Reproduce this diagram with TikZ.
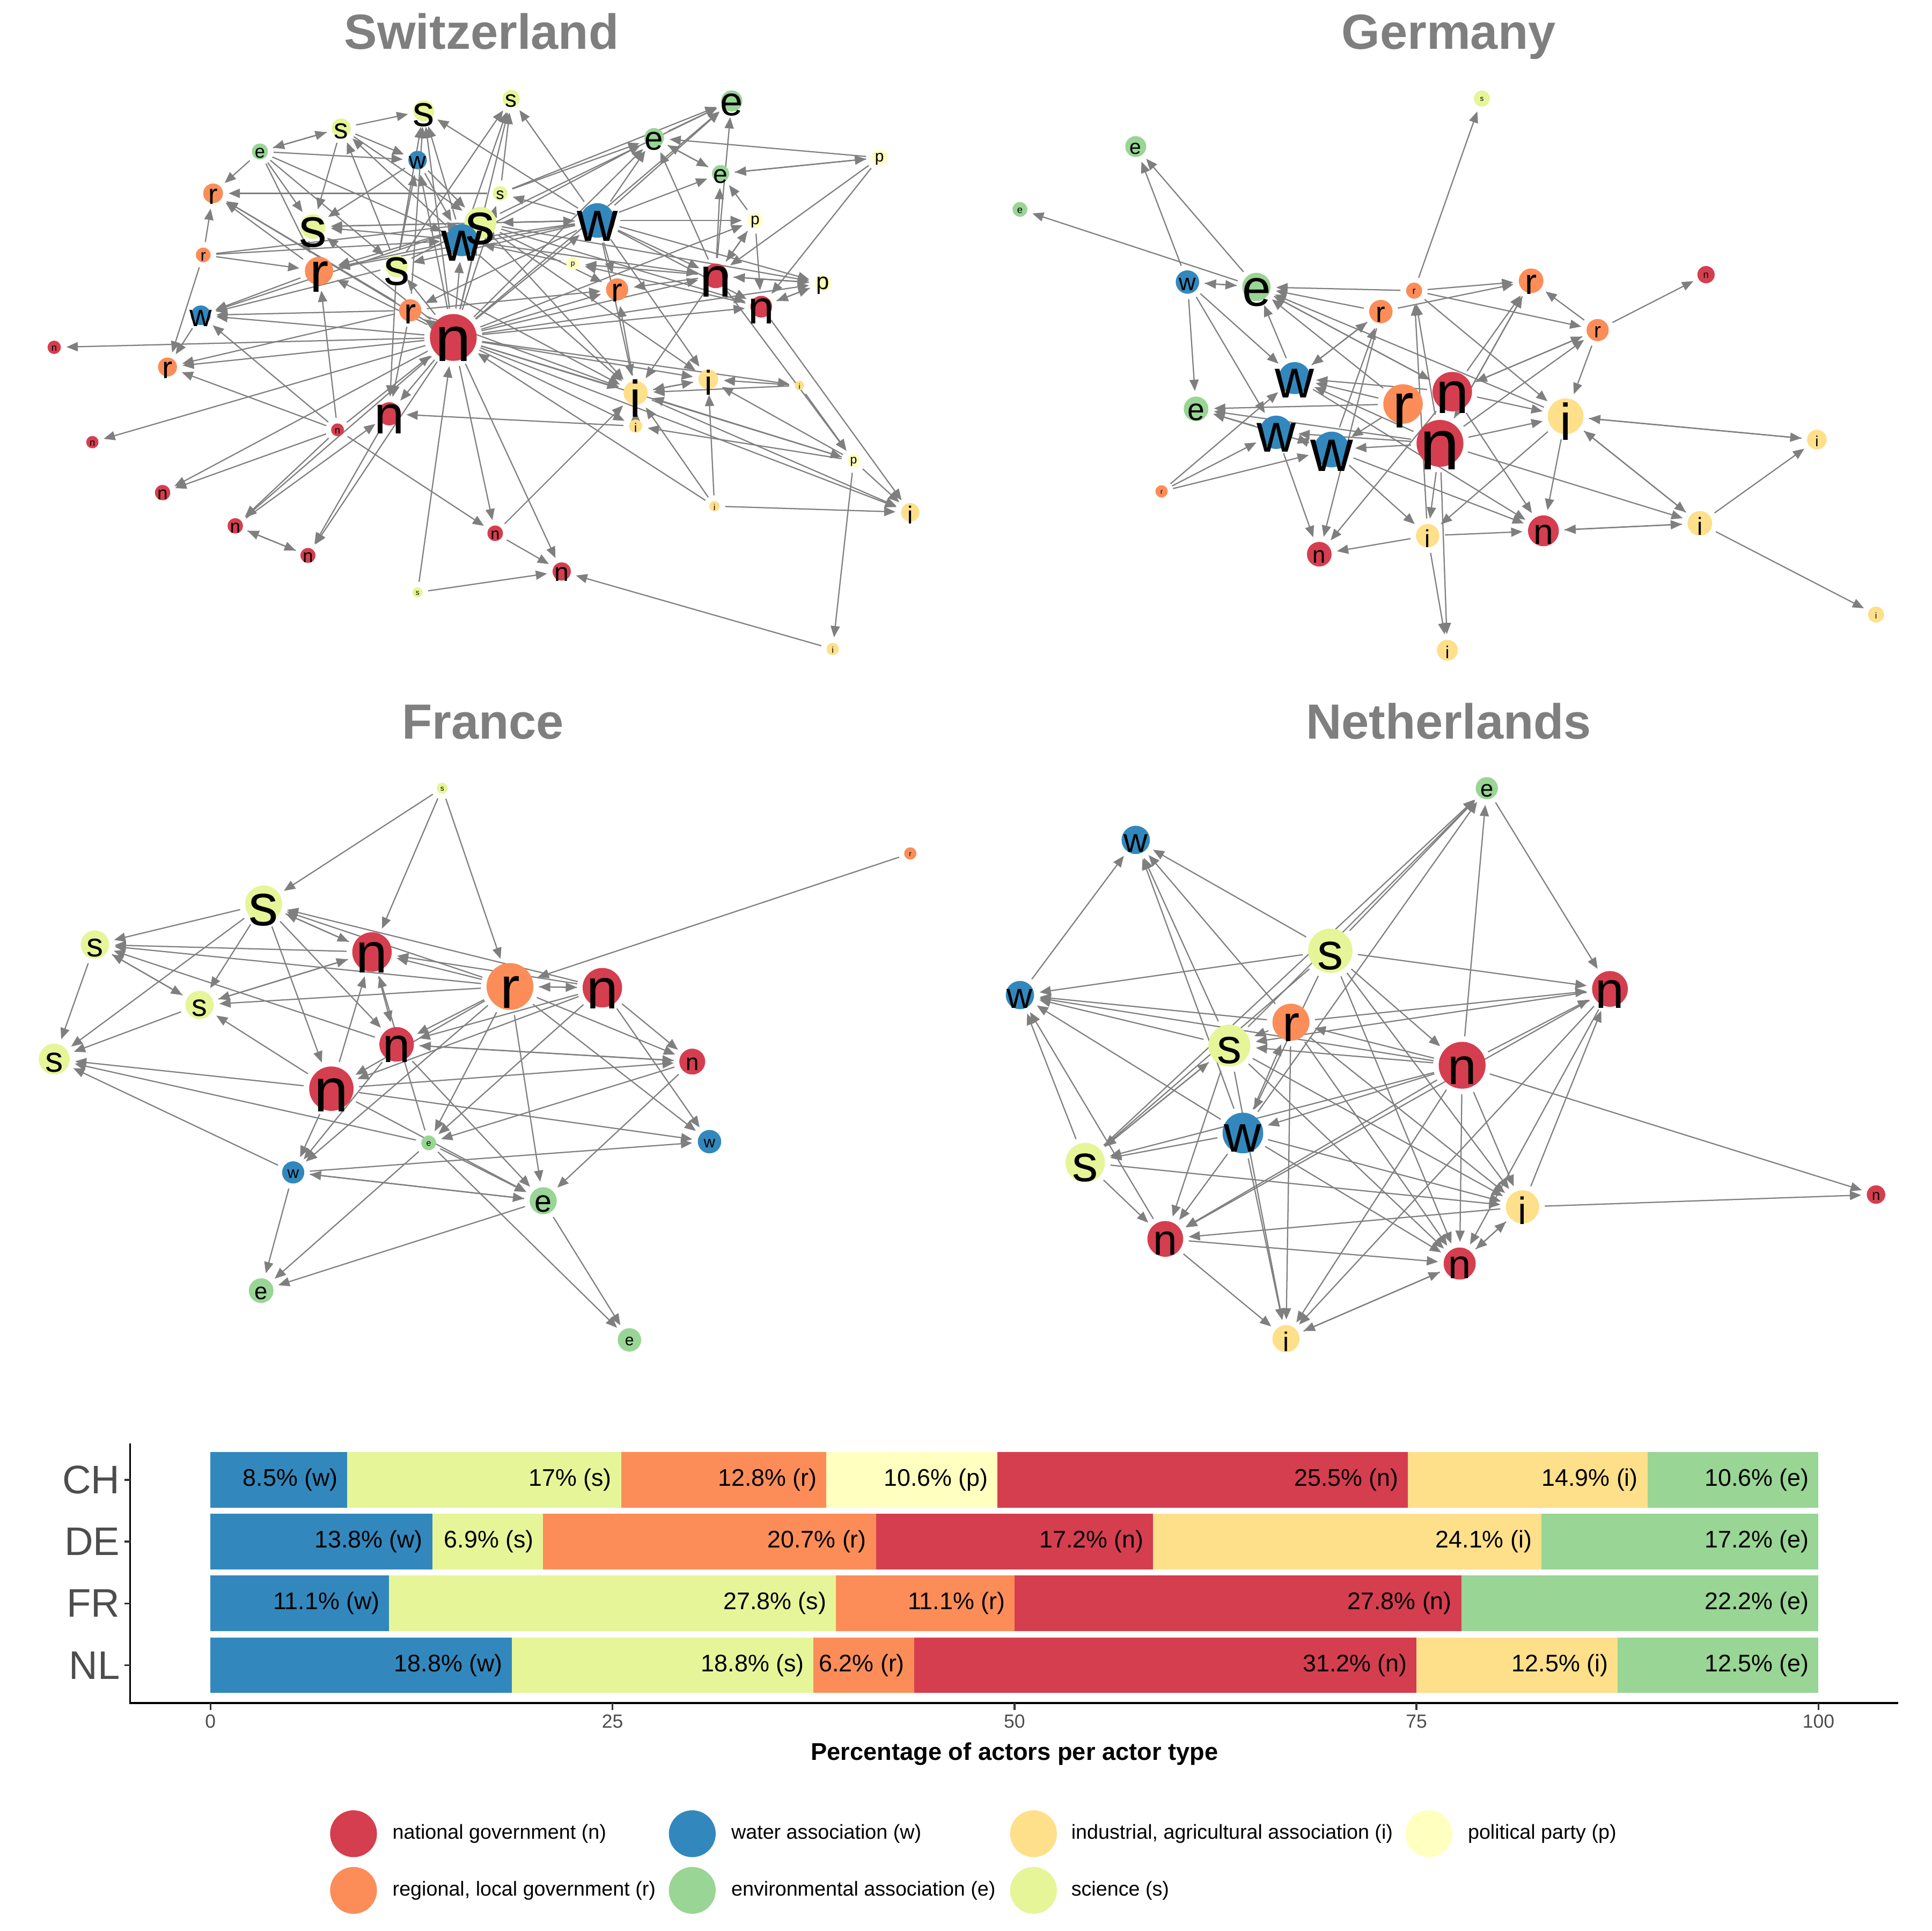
\documentclass[tikz,border=0pt]{standalone}
\usepackage{fontspec}
\setmainfont{Liberation Sans}
\usetikzlibrary{arrows.meta}
\pgfdeclarelayer{bg}
\pgfdeclarelayer{fg}
\pgfsetlayers{bg,main,fg}
\definecolor{coln}{HTML}{D53E4F}
\definecolor{colr}{HTML}{FC8D59}
\definecolor{coli}{HTML}{FEE08B}
\definecolor{colp}{HTML}{FFFFBF}
\definecolor{cols}{HTML}{E6F598}
\definecolor{cole}{HTML}{99D594}
\definecolor{colw}{HTML}{3288BD}
\definecolor{edgegray}{HTML}{7F7F7F}
\definecolor{titlegray}{HTML}{7F7F7F}
\definecolor{axisgray}{HTML}{4D4D4D}
\tikzset{
  actor/.style={circle,draw=none,inner sep=0pt,outer sep=0pt},
  tie/.style={draw=edgegray,line width=0.28pt,-{Triangle[length=2.6pt,width=2.1pt]},shorten >=1.3pt,shorten <=1.3pt},
  paneltitle/.style={font=\bfseries\fontsize{11.4pt}{13pt}\selectfont,text=titlegray,anchor=base,inner sep=0pt},
  barlab/.style={font=\fontsize{5.55pt}{6.5pt}\selectfont,anchor=east,inner sep=0pt},
  ticklab/.style={font=\fontsize{4.4pt}{5pt}\selectfont,text=axisgray,inner sep=0pt},
  rowlab/.style={font=\fontsize{9.2pt}{10pt}\selectfont,text=axisgray,anchor=east,inner sep=0pt},
  legkey/.style={circle,inner sep=0pt,minimum size=0.38cm},
  leglab/.style={font=\fontsize{4.67pt}{5.5pt}\selectfont,anchor=west,inner sep=0pt},
}
\newcommand\nd[6]{%
  \node[actor,fill=col#4,minimum size=#5*0.02cm] (#1) at (#2,#3) {};%
  \pgfmathsetmacro\fsz{#6*0.2845}%
  \begin{pgfonlayer}{fg}%
  \node[inner sep=0pt,font=\fontsize{\fsz pt}{\fsz pt}\selectfont,yshift={-0.1*\fsz*1pt}] (#1l) at (#1.center) {#4};%
  \end{pgfonlayer}}
\newcommand\ties[1]{%
  \begin{pgfonlayer}{bg}%
  \foreach \a/\b in {#1}{\draw[tie] (\a) -- (\b);}%
  \end{pgfonlayer}}
\newcommand\seg[6]{%
  \pgfmathsetmacro\segxa{170.9+#3*13.054}%
  \pgfmathsetmacro\segxb{170.9+#4*13.054}%
  \fill[col#5] (\segxa,#2) rectangle (\segxb,#2+45.2);%
  \node[barlab] (#1) at (\segxb-7,#2+22.6) {#6};}
\begin{document}
\begin{tikzpicture}[x=0.01cm,y=-0.01cm]
\useasboundingbox (0,0) rectangle (1568,1568);
\begin{pgfonlayer}{bg}
\fill[white] (0,0) rectangle (1568,1568);
\end{pgfonlayer}
% titles
\node[paneltitle] (tCH) at (391,40) {Switzerland};
\node[paneltitle] (tDE) at (1176,40) {Germany};
\node[paneltitle] (tFR) at (392,600) {France};
\node[paneltitle] (tNL) at (1176,600) {Netherlands};
% ---------------- Switzerland
\nd{cs1}{344}{90}{s}{8.5}{35}
\nd{cs2}{415}{80}{s}{7}{19}
\nd{cs3}{277}{104}{s}{7.8}{23}
\nd{ce1}{211}{123}{e}{6.5}{15}
\nd{cw1}{339}{130}{w}{7.5}{19}
\nd{ce2}{531}{112}{e}{8}{27}
\nd{ce3}{594}{82}{e}{8.6}{33}
\nd{ce4}{585}{141}{e}{7}{21}
\nd{cp1}{714}{128}{p}{6.3}{13}
\nd{cs4}{406}{157}{s}{6}{13}
\nd{cp2}{613}{179}{p}{6.2}{13}
\nd{cr1}{173}{157}{r}{8}{23}
\nd{cs5}{254}{184}{s}{10}{45}
\nd{cs6}{390}{181}{s}{13}{48}
\nd{cw2}{375}{195}{w}{13}{46}
\nd{cw3}{485}{179}{w}{14}{46}
\nd{cr2}{165}{207}{r}{6}{13}
\nd{cr3}{259}{220}{r}{11.5}{46}
\nd{cs7}{322}{216}{s}{9}{42}
\nd{cp3}{465}{214}{p}{5.4}{6}
\nd{cr4}{501}{235}{r}{9}{27}
\nd{cn1}{581}{224}{n}{10}{46}
\nd{cp4}{668}{230}{p}{6.8}{19}
\nd{cn2}{618}{249}{n}{8.8}{38}
\nd{cw4}{163}{256}{w}{8}{25}
\nd{cr5}{333}{252}{r}{9}{29}
\nd{cn3}{368}{274}{n}{19}{52}
\nd{cn4}{44}{282}{n}{5.4}{8}
\nd{cr6}{136}{298}{r}{7.7}{25}
\nd{ci1}{516}{319}{i}{9.8}{42}
\nd{ci2}{575}{308}{i}{8}{28}
\nd{ci3}{649}{313}{i}{3.8}{6}
\nd{cn5}{316}{336}{n}{9.4}{44}
\nd{cn6}{274}{349}{n}{5.2}{8}
\nd{ci4}{516}{346}{i}{5.4}{10}
\nd{cn7}{75}{359}{n}{5}{8}
\nd{cp5}{693}{374}{p}{5.4}{10}
\nd{cn8}{132}{400}{n}{6.2}{15}
\nd{ci5}{580}{411}{i}{4.2}{7}
\nd{ci6}{739}{416}{i}{7.5}{20}
\nd{cn9}{191}{427}{n}{6.2}{15}
\nd{cn10}{250}{451}{n}{6.1}{15}
\nd{cn11}{402}{433}{n}{6.3}{13}
\nd{cn12}{456}{464}{n}{7.4}{21}
\nd{cs8}{339}{481}{s}{4.1}{6}
\nd{ci7}{676}{527}{i}{5}{7}
\ties{cn3/cn4,cn3/cr6,cn3/cw4,cn3/cn7,cn3/cn8,cn3/cn9,cn3/cn10,cn3/cn11,cn3/cn12,cn3/cn5,cn3/ci1,cn3/ci2,cn3/ci4,cn3/ci6,cn3/cn2,cn3/cn1,cn3/cr4,cn3/cp2,cn3/cs1,cn3/cw1,cn3/cs6,cn3/cw2,cn3/cs5,cn3/cr3,cn3/cr1,cn3/ce2,cn3/ce3,cn3/cp4,cn3/cs2,cn3/cs4,cn3/cw3,cn3/cs7,cn3/cr5,cn3/cp5,cn3/ci3,
cs8/cn3,ci5/cn3,cn6/cn3,
cs3/cs1,ce1/cs3,cs3/ce1,ce1/cw1,cs3/cw1,cw2/cs3,ce1/cr1,cr2/cr1,cr2/cr6,cr2/cr3,ce1/cs5,ce1/cr3,cs3/cs5,cw1/cs5,cs4/cr1,cs7/cs3,cs3/cs6,cw2/cs1,cr5/cs1,cs7/cs1,cw3/cs1,cs7/cw1,cw1/cw2,cw1/cs6,cw2/cs2,cs7/cs2,cw3/cs2,cs4/cs2,cr5/cr1,cr3/cr1,cr3/cw4,cr5/cw4,cs7/cw4,cs6/cw4,cw4/cr6,cr5/cr6,cn6/cr6,cn6/cw4,cr2/cw2,cr2/cs6,ce1/cw2,ce1/cs7,cs6/cs5,cw2/cs5,cw3/cs5,cs6/cr3,cw3/cr3,cw2/cr3,cs7/cs6,
cw3/cs4,cs4/ce2,cs4/ce3,cw3/ce2,cw3/ce3,cw3/cp2,cw3/cr4,cw3/cp4,cw3/ce4,cw3/ci1,cw3/cn2,cw3/cn1,ce2/ce4,ce4/ce2,ce2/ce3,cp1/ce2,cp1/ce4,ce4/cp1,cp1/cn1,cp1/cn2,cp2/ce4,cp2/cn1,cn1/cp2,cp2/cn2,cn1/ce3,cn1/ce4,cn1/ce2,cn1/cp3,cn2/cp3,cn1/cr4,cp4/cn1,cp4/cn2,cn1/cp4,cn2/cp4,cn1/ci1,ci1/cr4,cs6/ci1,cw2/ci1,cs7/ci1,cr5/ci1,cs6/ci2,ci3/ci2,ci3/ci1,cn2/ci6,cn1/cp5,cw3/cw2,cw3/cs6,cw3/cs7,cw3/cr5,cs6/cw3,cw2/ce2,cs6/ce3,cs6/cr4,cw2/cn1,cs6/cn2,cs6/cp4,cr5/cr4,cp3/cw2,cw3/ci2,
cn6/cn8,cn6/cn9,cn9/cn10,cn10/cn9,cn9/cn5,cn5/cn10,cn6/cn11,cs8/cn12,cn11/cn12,ci7/cn12,cn11/ci1,ci5/ci1,ci5/ci2,ci5/ci6,cp5/ci1,cp5/ci2,cp5/ci4,cp5/ci6,cp5/ci7,ci1/ci6,ci3/cp5,ci4/cn5,ci4/ci1,ci1/ci2,ci2/ci1,cr5/cn5,cs7/cn5,cn6/cr3}
% ---------------- Germany
\nd{gs}{1203}{80}{s}{6.5}{6}
\nd{ge1}{922}{119}{e}{8.5}{17}
\nd{ge2}{828}{170}{e}{6}{8}
\nd{gw1}{964}{229}{w}{9.5}{19}
\nd{ge3}{1020}{233}{e}{11.5}{42}
\nd{gr1}{1148}{236}{r}{6.5}{8}
\nd{gr2}{1243}{228}{r}{10}{29}
\nd{gn1}{1385}{223}{n}{7}{8}
\nd{gr3}{1121}{253}{r}{9.5}{23}
\nd{gr4}{1297}{268}{r}{9}{17}
\nd{gw2}{1051}{307}{w}{13}{44}
\nd{gn2}{1179}{318}{n}{16}{48}
\nd{gr5}{1139}{328}{r}{16}{52}
\nd{gi1}{1271}{338}{i}{14.5}{42}
\nd{ge4}{971}{332}{e}{10}{25}
\nd{gw3}{1036}{351}{w}{13.5}{44}
\nd{gw4}{1081}{365}{w}{14.5}{48}
\nd{gn3}{1169}{360}{n}{19}{58}
\nd{gi2}{1475}{357}{i}{8}{12}
\nd{gr6}{943}{399}{r}{5}{6}
\nd{gi3}{1159}{435}{i}{9.5}{20}
\nd{gn4}{1253}{431}{n}{12.5}{29}
\nd{gi4}{1380}{425}{i}{10}{20}
\nd{gn5}{1071}{450}{n}{10}{19}
\nd{gi5}{1175}{528}{i}{8.5}{14}
\nd{gi6}{1523}{499}{i}{6.5}{7}
\ties{gr1/gs,ge3/ge2,gw1/ge1,ge3/ge1,gw1/ge3,ge3/gw1,gw1/ge4,gw1/gw2,gw1/gw3,gr1/ge3,gr3/ge3,gr1/gr2,gr1/gr4,gr3/gr2,gr4/gr2,gr4/gn1,gn2/gr4,gr4/gn2,gn3/gr4,gr4/gi1,gr3/gw2,gw2/gr3,gw2/ge3,gn2/gr2,gn3/gr2,gi3/gr1,gn3/gr1,gr1/gi1,gi1/ge3,gn2/gw2,gr5/gw2,gn3/gw2,gr5/ge4,gn3/ge4,gw4/ge4,gw3/ge4,gn3/gw4,gn3/gw3,gr5/gw4,gr6/gw2,gr6/gw3,gr6/gw4,gw3/gn5,gr3/gn5,gn2/gn5,gi3/gn5,gi3/gn4,gn4/gi4,gi4/gn4,gi4/gi2,gi4/gi6,gi1/gi2,gi2/gi1,gi1/gi4,gi4/gi1,gn3/gi4,gn3/gi5,gi3/gi5,gn3/gi3,gi1/gn4,gi1/gi3,gn3/gi1,gn2/gi1,gn2/gn4,gw4/gi3,gw2/gn4,gw4/gn4,gw4/gr3,ge3/gn2,gr2/gn3,gw3/gw4,gw4/gw3,gn2/ge3,gr5/ge3}
% ---------------- France
\nd{fs0}{359}{640}{s}{4.5}{6}
\nd{fr0}{739}{693}{r}{5}{6}
\nd{fs1}{214}{734}{s}{15}{48}
\nd{fs2}{77}{767}{s}{11.5}{27}
\nd{fn1}{302}{773}{n}{16}{46}
\nd{fr1}{414}{801}{r}{19}{48}
\nd{fn2}{489}{802}{n}{16}{46}
\nd{fs3}{162}{816}{s}{11.5}{25}
\nd{fn3}{322}{848}{n}{14}{40}
\nd{fs4}{44}{860}{s}{12.5}{29}
\nd{fn4}{562}{862}{n}{10.5}{19}
\nd{fn5}{269}{884}{n}{18}{50}
\nd{fe1}{348}{928}{e}{6}{7}
\nd{fw1}{576}{927}{w}{9.5}{13}
\nd{fw2}{238}{952}{w}{9}{13}
\nd{fe2}{441}{975}{e}{11}{25}
\nd{fe3}{212}{1048}{e}{10}{19}
\nd{fe4}{511}{1088}{e}{9.5}{13}
\ties{fs0/fs1,fs0/fn1,fs0/fr1,fr0/fr1,fs1/fs2,fs1/fs3,fs1/fs4,fs1/fn1,fn1/fs1,fr1/fs1,fn2/fs1,fs1/fn5,fs1/fn3,fn1/fs2,fr1/fs2,fs2/fs4,fs2/fs3,fs3/fs2,fn3/fs2,fn1/fs3,fr1/fs3,fs3/fs4,fn5/fs3,fn5/fs4,fw2/fs4,fe1/fs4,fr1/fn1,fn2/fn1,fn5/fn1,fs3/fn1,fn1/fn3,fe1/fn1,fr1/fn2,fn2/fr1,fr1/fn3,fn2/fn3,fr1/fn5,fr1/fw2,fr1/fe1,fr1/fe2,fr1/fn4,fr1/fw1,fn2/fn4,fn2/fw1,fn2/fe1,fn2/fn5,fn3/fn4,fn4/fn3,fn3/fw2,fn3/fe2,fn5/fn4,fn5/fw1,fn5/fe2,fn5/fw2,fe1/fe4,fe1/fe3,fe1/fe2,fw2/fw1,fn4/fe1,fn4/fe2,fe2/fw2,fw2/fe2,fe2/fe3,fe2/fe4,fw2/fe3}
% ---------------- Netherlands
\nd{ne}{1207}{640}{e}{9}{19}
\nd{nw1}{922}{682}{w}{11.5}{27}
\nd{ns1}{1080}{772}{s}{18}{42}
\nd{nw2}{828}{808}{w}{11.5}{29}
\nd{nn1}{1307}{803}{n}{14.5}{42}
\nd{nr}{1048}{830}{r}{15}{42}
\nd{ns2}{998}{849}{s}{17}{40}
\nd{nn5}{1187}{865}{n}{19}{42}
\nd{nw3}{1009}{920}{w}{16.5}{42}
\nd{ns3}{881}{944}{s}{16}{42}
\nd{nn2}{1523}{970}{n}{7.5}{12}
\nd{ni1}{1236}{980}{i}{13.5}{31}
\nd{nn3}{946}{1006}{n}{14.5}{35}
\nd{nn4}{1185}{1026}{n}{13}{33}
\nd{ni2}{1044}{1087}{i}{11}{22}
\ties{nw2/nw1,ns1/nw1,nr/nw1,ns2/nw1,nw3/nw1,ns1/nw2,nr/nw2,ns2/nw2,nn5/nw2,nw3/nw2,ns3/nw2,nn3/nw2,ns1/ne,ns2/ne,ns3/ne,nn5/ne,ne/nn1,ns1/nn1,nr/nn1,nn5/nn1,nn1/ni2,nn1/nn4,ni1/nn1,nn1/nn3,ns1/nn4,ns1/ni1,ns1/ns3,ns1/nw3,ns1/nn5,nn5/nr,nr/ns2,nw3/nr,nr/ni2,nr/nn4,nr/ni1,nn5/ns2,ns2/ni2,ns2/nn4,ns2/ni1,ns2/ns3,ns3/ns2,ns2/nn3,nn1/ns2,nn5/nw3,nn5/ns3,nn5/nn3,nn5/ni2,nn5/nn4,nn5/ni1,nn5/nn2,nw3/ns3,nw3/nn3,nw3/ni2,nw3/ni1,nw3/nn4,nw3/ne,ns3/nn3,ns3/ni1,ni1/nn3,nn3/nn4,nn3/ni2,ni1/nn2,ni1/nn4,nn4/ni1,ni2/nn4,nn4/ni2}
% ---------------- bar chart
\seg{bCHw}{1179}{0}{8.51}{w}{8.5\% (w)}
\seg{bCHs}{1179}{8.51}{25.53}{s}{17\% (s)}
\seg{bCHr}{1179}{25.53}{38.30}{r}{12.8\% (r)}
\seg{bCHp}{1179}{38.30}{48.94}{p}{10.6\% (p)}
\seg{bCHn}{1179}{48.94}{74.47}{n}{25.5\% (n)}
\seg{bCHi}{1179}{74.47}{89.36}{i}{14.9\% (i)}
\seg{bCHe}{1179}{89.36}{100}{e}{10.6\% (e)}
\seg{bDEw}{1229.2}{0}{13.79}{w}{13.8\% (w)}
\seg{bDEs}{1229.2}{13.79}{20.69}{s}{6.9\% (s)}
\seg{bDEr}{1229.2}{20.69}{41.38}{r}{20.7\% (r)}
\seg{bDEn}{1229.2}{41.38}{58.62}{n}{17.2\% (n)}
\seg{bDEi}{1229.2}{58.62}{82.76}{i}{24.1\% (i)}
\seg{bDEe}{1229.2}{82.76}{100}{e}{17.2\% (e)}
\seg{bFRw}{1279.4}{0}{11.11}{w}{11.1\% (w)}
\seg{bFRs}{1279.4}{11.11}{38.89}{s}{27.8\% (s)}
\seg{bFRr}{1279.4}{38.89}{50}{r}{11.1\% (r)}
\seg{bFRn}{1279.4}{50}{77.78}{n}{27.8\% (n)}
\seg{bFRe}{1279.4}{77.78}{100}{e}{22.2\% (e)}
\seg{bNLw}{1329.6}{0}{18.75}{w}{18.8\% (w)}
\seg{bNLs}{1329.6}{18.75}{37.5}{s}{18.8\% (s)}
\seg{bNLr}{1329.6}{37.5}{43.75}{r}{6.2\% (r)}
\seg{bNLn}{1329.6}{43.75}{75}{n}{31.2\% (n)}
\seg{bNLi}{1329.6}{75}{87.5}{i}{12.5\% (i)}
\seg{bNLe}{1329.6}{87.5}{100}{e}{12.5\% (e)}
\draw[line width=0.45pt] (105.7,1172) -- (105.7,1383) -- (1541,1383);
\foreach \yy/\lab in {1201.6/CH,1251.8/DE,1302/FR,1352.2/NL}{
  \draw[line width=0.45pt,color=black!80] (101,\yy) -- (105.7,\yy);
  \node[rowlab] (y\lab) at (98,\yy) {\lab};}
\foreach \v in {0,25,50,75,100}{
  \draw[line width=0.45pt,color=black!80] (170.9+\v*13.054,1383) -- (170.9+\v*13.054,1388.5);
  \node[ticklab] (tick\v) at (170.9+\v*13.054,1398) {\v};}
\node[font=\bfseries\fontsize{5.6pt}{6.5pt}\selectfont,inner sep=0pt] (xtitle) at (823.6,1424) {Percentage of actors per actor type};
% ---------------- legend
\node[legkey,fill=coln] (kn) at (287,1489) {};
\node[leglab] (ln) at (318,1489) {national government (n)};
\node[legkey,fill=colw] (kw) at (562,1489) {};
\node[leglab] (lw) at (593,1489) {water association (w)};
\node[legkey,fill=coli] (ki) at (839,1489) {};
\node[leglab] (li) at (869,1489) {industrial, agricultural association (i)};
\node[legkey,fill=colp] (kp) at (1160,1489) {};
\node[leglab] (lp) at (1191,1489) {political party (p)};
\node[legkey,fill=colr] (kr) at (287,1535) {};
\node[leglab] (lr) at (318,1535) {regional, local government (r)};
\node[legkey,fill=cole] (ke) at (562,1535) {};
\node[leglab] (le) at (593,1535) {environmental association (e)};
\node[legkey,fill=cols] (ks) at (839,1535) {};
\node[leglab] (ls) at (869,1535) {science (s)};
\end{tikzpicture}
\end{document}
